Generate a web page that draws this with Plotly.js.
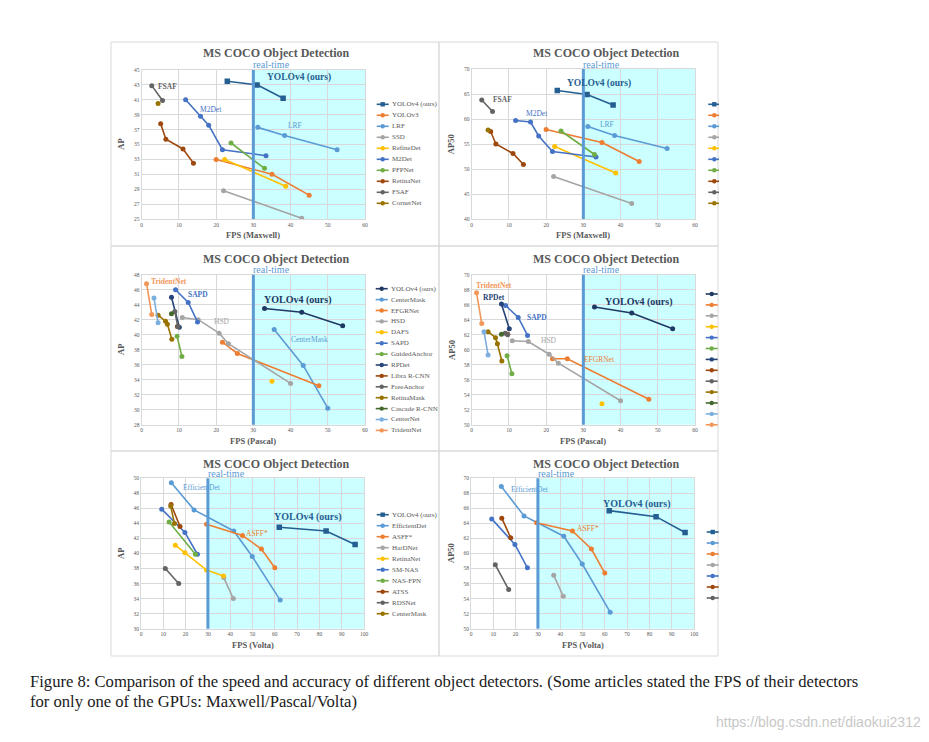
<!DOCTYPE html>
<html><head><meta charset="utf-8">
<script src="https://cdn.plot.ly/plotly-3.0.1.min.js"></script>
<style>html,body{margin:0;padding:0;background:#fff;}#chart{width:929px;height:742px;}</style>
</head><body><div id="chart"></div>
<script>
// ================= DATA =================
// Maxwell GPU
const maxwellNames  = ['YOLOv4 (ours)','YOLOv3','LRF','SSD','RefineDet','M2Det','PFPNet','RetinaNet','FSAF','CornerNet'];
const maxwellColors = ['#255E91','#ED7D31','#5B9BD5','#A5A5A5','#FFC000','#4472C4','#70AD47','#9E480E','#636363','#997300'];
const maxwellFPS = [[23,31,38],[20,35,45],[31.2,38.4,52.5],[22,43],[22.3,38.7],[11.8,15.8,18,21.7,33.4],[24,33],[5.1,6.5,11.1,13.9],[2.7,5.6],[4.4]];
const maxwellAP  = [[43.5,43.0,41.2],[33.0,31.0,28.2],[37.3,36.2,34.3],[28.8,25.1],[33.0,29.4],[41.0,38.8,37.6,34.3,33.5],[35.2,31.8],[37.8,35.7,34.4,32.5],[42.9,40.9],[40.5]];
const maxwellAP50= [[65.7,64.9,62.8],[57.9,55.3,51.5],[58.5,56.7,54.1],[48.5,43.1],[54.5,49.2],[59.7,59.4,56.6,53.5,52.4],[57.6,52.9],[57.5,55.0,53.1,50.9],[63.8,61.5],[57.8]];
const maxwellLabelsAP   = [['FSAF',6.9,42.85,'#636363',1],['M2Det',18.6,39.7,'#4472C4',0],['LRF',41.1,37.5,'#5B9BD5',0]];
const maxwellLabelsAP50 = [['FSAF',8.2,64.0,'#636363',1],['M2Det',17.5,61.2,'#4472C4',0],['LRF',36.3,58.9,'#5B9BD5',0]];

// Pascal GPU (AP)
const pascalNames  = ['YOLOv4 (ours)','CenterMask','EFGRNet','HSD','DAFS','SAPD','GuidedAnchor','RPDet','Libra R-CNN','FreeAnchor','RetinaMask','Cascade R-CNN','CenterNet','TridentNet'];
const pascalColors = ['#1F3864','#5B9BD5','#ED7D31','#A5A5A5','#FFC000','#4472C4','#70AD47','#264478','#9E480E','#636363','#997300','#43682B','#7CAFDD','#F1975A'];
const pascalFPS = [[33,43,54],[35.6,43.4,50.0],[21.7,25.7,47.6],[10.9,15.2,20.8,23.3,40.0],[35],[9.1,12.5,15.0],[9.5,10.8],[8.0,10.1],[9.6],[8.9,9.7],[4.4,6.4,6.9,8.1],[8.0],[3.3,4.4],[1.3,2.7]];
const pascalAP  = [[43.5,43.0,41.2],[40.7,35.9,30.2],[39.0,37.5,33.2],[42.3,42.0,40.2,38.8,33.5],[33.8],[46.0,44.3,41.7],[39.8,37.1],[45.0,41.0],[41.1],[43.1,41.1],[42.6,41.8,41.4,39.4],[42.8],[44.9,41.6],[46.8,42.7]];
const pascalLabelsAP = [['TridentNet',7.2,47.1,'#F1975A',1],['SAPD',15.2,45.3,'#4472C4',1],['HSD',21.5,41.7,'#A5A5A5',0],['CenterMask',45.0,39.3,'#5B9BD5',0]];

// Pascal GPU (AP50)
const pascal50Names  = ['YOLOv4 (ours)','EFGRNet','HSD','DAFS','SAPD','GuidedAnchor','RPDet','Libra R-CNN','FreeAnchor','RetinaMask','Cascade R-CNN','CenterNet','TridentNet'];
const pascal50Colors = ['#1F3864','#ED7D31','#A5A5A5','#FFC000','#4472C4','#70AD47','#264478','#9E480E','#636363','#997300','#43682B','#7CAFDD','#F1975A'];
const pascal50FPS = [[33,43,54],[21.7,25.7,47.6],[10.9,15.2,20.8,23.3,40.0],[35],[9.1,12.5,15.0],[9.5,10.8],[8.0,10.1],[9.7],[9.0,9.7],[4.4,6.4,6.9,8.1],[8.0],[3.3,4.4],[1.3,2.7]];
const pascal50AP50 = [[65.7,64.9,62.8],[58.8,58.8,53.4],[61.2,61.1,59.4,58.2,53.2],[52.8],[65.9,64.3,61.9],[59.2,56.8],[66.1,62.8],[62.05],[62.2,62.0],[62.4,61.6,60.8,58.5],[62.05],[62.4,59.3],[67.6,63.5]];
const pascalLabelsAP50 = [['TridentNet',5.9,68.5,'#F1975A',1],['RPDet',6.0,67.0,'#264478',1],['SAPD',17.6,64.3,'#4472C4',1],['HSD',20.9,61.2,'#A5A5A5',0],['EFGRNet',34.3,58.7,'#ED7D31',0]];

// Volta GPU (AP)
const voltaNames  = ['YOLOv4 (ours)','EfficientDet','ASFF*','HarDNet','RetinaNet','SM-NAS','NAS-FPN','ATSS','RDSNet','CenterMask'];
const voltaColors = ['#255E91','#5B9BD5','#ED7D31','#A5A5A5','#FFC000','#4472C4','#70AD47','#9E480E','#636363','#997300'];
const voltaFPS = [[62,83,96],[13.6,23.8,41.6,49.9,62.4],[29.4,45.5,54.0,60.0],[37.1,41.4],[15.4,19.7,29.4,37.0],[9.3,19.7,25.3],[12.6,24.4],[13.5,17.5],[10.9,16.9],[13.3,15.0]];
const voltaAP  = [[43.5,43.0,41.2],[49.4,45.8,43.0,39.6,33.8],[43.9,42.4,40.6,38.1],[36.8,34.0],[41.1,40.1,37.8,37.0],[45.9,42.8,39.9],[44.2,39.9],[46.5,43.6],[38.0,36.0],[46.3,44.0]];
const voltaLabelsAP = [['EfficientDet',27.4,48.8,'#5B9BD5',0],['ASFF*',52.2,42.7,'#ED7D31',0]];

// Volta GPU (AP50)
const volta50Names  = ['YOLOv4 (ours)','EfficientDet','ASFF*','HarDNet','SM-NAS','ATSS','RDSNet'];
const volta50Colors = ['#255E91','#5B9BD5','#ED7D31','#A5A5A5','#4472C4','#9E480E','#636363'];
const volta50FPS = [[62,83,96],[13.6,23.8,41.6,49.9,62.4],[29.4,45.5,54.0,60.0],[37.1,41.4],[9.3,19.7,25.3],[13.8,17.8],[10.9,16.9]];
const volta50AP50 = [[65.7,64.9,62.8],[68.9,65.0,62.3,58.6,52.2],[64.1,63.0,60.6,57.4],[57.1,54.3],[64.6,61.2,58.1],[64.7,62.1],[58.5,55.2]];
const voltaLabelsAP50 = [['EfficientDet',26.5,68.5,'#5B9BD5',0],['ASFF*',52.5,63.3,'#ED7D31',0]];

const chartTitle = 'MS COCO Object Detection';
const realTimeFPS = 30;
const oursLabel = 'YOLOv4 (ours)';
const captionLines = ['Figure 8: Comparison of the speed and accuracy of different object detectors. (Some articles stated the FPS of their detectors',
                      'for only one of the GPUs: Maxwell/Pascal/Volta)'];
const watermark = 'https://blog.csdn.net/diaokui2312';

// ================= LAYOUT =================
const W = 929, H = 742;
const SERIF = 'Liberation Serif, Times New Roman, serif';
const X = px => px / W;
const Y = py => 1 - py / H;

const panels = [
  {names:maxwellNames, colors:maxwellColors, xs:maxwellFPS, ys:maxwellAP, labels:maxwellLabelsAP, oursPos:[42.2,43.97], oursColor:'#255E91', oursSize:9.5,
   xr:[0,60], xd:10, yr:[25,45], yd:2, dom:[141.7,365,70,219], ytitle:'AP', xtitle:'FPS (Maxwell)', square:true,
   leg:{x:376.7, y0:104.3, step:11, text:true}, titleXY:[276.7,53.3]},
  {names:maxwellNames, colors:maxwellColors, xs:maxwellFPS, ys:maxwellAP50, labels:maxwellLabelsAP50, oursPos:[34.2,67.1], oursColor:'#255E91', oursSize:9.5,
   xr:[0,60], xd:10, yr:[40,70], yd:5, dom:[471.7,695,69,219], ytitle:'AP50', xtitle:'FPS (Maxwell)', square:true,
   leg:{x:708.3, y0:104.3, step:11, text:false}, titleXY:[606.7,53.3]},
  {names:pascalNames, colors:pascalColors, xs:pascalFPS, ys:pascalAP, labels:pascalLabelsAP, oursPos:[42.0,44.6], oursColor:'#1F3864', oursSize:10,
   xr:[0,60], xd:10, yr:[28,48], yd:2, dom:[141.7,365,274.7,424.7], ytitle:'AP', xtitle:'FPS (Pascal)', square:false,
   leg:{x:375.7, y0:288.7, step:10.9, text:true}, titleXY:[276.7,258.7]},
  {names:pascal50Names, colors:pascal50Colors, xs:pascal50FPS, ys:pascal50AP50, labels:pascalLabelsAP50, oursPos:[45.0,66.3], oursColor:'#1F3864', oursSize:10,
   xr:[0,60], xd:10, yr:[50,70], yd:2, dom:[471.7,695,274.7,424.7], ytitle:'AP50', xtitle:'FPS (Pascal)', square:false,
   leg:{x:705.7, y0:294, step:10.9, text:false}, titleXY:[606.7,258.7]},
  {names:voltaNames, colors:voltaColors, xs:voltaFPS, ys:voltaAP, labels:voltaLabelsAP, oursPos:[74.9,44.8], oursColor:'#255E91', oursSize:10,
   xr:[0,100], xd:10, yr:[30,50], yd:2, dom:[141,364,478.3,628.7], ytitle:'AP', xtitle:'FPS (Volta)', square:true,
   leg:{x:376.7, y0:514.7, step:11, text:true}, titleXY:[276.7,464.3]},
  {names:volta50Names, colors:volta50Colors, xs:volta50FPS, ys:volta50AP50, labels:voltaLabelsAP50, oursPos:[74.6,66.6], oursColor:'#255E91', oursSize:10,
   xr:[0,100], xd:10, yr:[50,70], yd:2, dom:[471,694,478.3,628.7], ytitle:'AP50', xtitle:'FPS (Volta)', square:true,
   leg:{x:706.7, y0:532, step:11, text:false}, titleXY:[606.7,464.3]}
];

const panelFrames = [[111,439,42,246],[439,718,42,246],[111,439,246,451],[439,718,246,451],[111,439,451,656],[439,718,451,656]];

const traces = [];
const shapes = [];
const annotations = [];
const layout = {
  width: W, height: H, margin:{l:0,r:0,t:0,b:0},
  paper_bgcolor:'#ffffff', plot_bgcolor:'#ffffff', showlegend:false,
  font:{family:SERIF, color:'#595959'}
};

panelFrames.forEach(f => {
  shapes.push({type:'rect', xref:'paper', yref:'paper', x0:X(f[0]), x1:X(f[1]), y0:Y(f[3]), y1:Y(f[2]),
               line:{color:'#D9D9D9', width:1}, fillcolor:'rgba(0,0,0,0)', layer:'below'});
});

panels.forEach((p, k) => {
  const i = k + 1;
  const xa = i === 1 ? 'xaxis' : 'xaxis' + i;
  const ya = i === 1 ? 'yaxis' : 'yaxis' + i;
  const xr = i === 1 ? 'x' : 'x' + i;
  const yr = i === 1 ? 'y' : 'y' + i;
  const axCommon = {showgrid:true, gridcolor:'#D9D9D9', gridwidth:1, zeroline:false, showline:true, linecolor:'#D9D9D9',
                    linewidth:1, mirror:true, ticks:'', tickfont:{family:SERIF, size:5.5, color:'#595959'}, fixedrange:true};
  layout[xa] = Object.assign({}, axCommon, {domain:[X(p.dom[0]), X(p.dom[1])], range:p.xr, dtick:p.xd, tick0:0, anchor:yr});
  layout[ya] = Object.assign({}, axCommon, {domain:[Y(p.dom[3]), Y(p.dom[2])], range:p.yr, dtick:p.yd, tick0:p.yr[0], anchor:xr});

  // real-time zone
  shapes.push({type:'rect', xref:xr, yref:yr + ' domain', x0:realTimeFPS, x1:p.xr[1], y0:0, y1:1,
               fillcolor:'#CCFFFF', line:{width:0}, layer:'below'});
  shapes.push({type:'line', xref:xr, yref:yr + ' domain', x0:realTimeFPS, x1:realTimeFPS, y0:0, y1:1,
               line:{color:'#5B9BD5', width:3}, layer:'above'});

  // series
  p.names.forEach((name, s) => {
    const sym = (s === 0 && p.square) ? 'square' : 'circle';
    traces.push({type:'scatter', mode:'lines+markers', name:name, x:p.xs[s], y:p.ys[s], xaxis:xr, yaxis:yr,
                 line:{color:p.colors[s], width:1.6}, marker:{color:p.colors[s], size: sym === 'square' ? 5.5 : 5, symbol:sym},
                 showlegend:false, hoverinfo:'x+y+name'});
    // custom compact legend
    const cy = p.leg.y0 + s * p.leg.step;
    const lx0 = p.leg.x, lx1 = Math.min(p.leg.x + 12, 719);
    shapes.push({type:'line', xref:'paper', yref:'paper', x0:X(lx0), x1:X(lx1), y0:Y(cy), y1:Y(cy),
                 line:{color:p.colors[s], width:1.6}});
    shapes.push({type: sym === 'square' ? 'rect' : 'circle', xref:'paper', yref:'paper', xsizemode:'pixel', ysizemode:'pixel',
                 xanchor:X(p.leg.x + 6), yanchor:Y(cy), x0:-2.2, x1:2.2, y0:-2.2, y1:2.2,
                 fillcolor:p.colors[s], line:{width:0}});
    if (p.leg.text) {
      annotations.push({xref:'paper', yref:'paper', x:X(p.leg.x + 14.5), y:Y(cy), xanchor:'left', yanchor:'middle',
                        text:name, showarrow:false, borderpad:0, font:{family:SERIF, size:7, color:'#595959'}});
    }
  });

  // series labels
  p.labels.forEach(l => {
    annotations.push({xref:xr, yref:yr, x:l[1], y:l[2], text: l[4] ? '<b>' + l[0] + '</b>' : l[0], showarrow:false,
                      borderpad:0, font:{family:SERIF, size:7.5, color:l[3]}});
  });
  annotations.push({xref:xr, yref:yr, x:p.oursPos[0], y:p.oursPos[1], text:'<b>' + oursLabel + '</b>', showarrow:false,
                    borderpad:0, font:{family:SERIF, size:p.oursSize, color:p.oursColor}});
  // real-time label
  annotations.push({xref:xr, yref:yr + ' domain', x:realTimeFPS, y:1, xanchor:'left', yanchor:'bottom', yshift:-1.5, xshift:-1,
                    borderpad:0, text:'real-time', showarrow:false, font:{family:SERIF, size:10, color:'#5B9BD5'}});
  // chart title
  annotations.push({xref:'paper', yref:'paper', x:X(p.titleXY[0]), y:Y(p.titleXY[1]), xanchor:'center', yanchor:'middle',
                    borderpad:0, text:'<b>' + chartTitle + '</b>', showarrow:false, font:{family:SERIF, size:12, color:'#595959'}});
  // axis titles
  annotations.push({xref:'paper', yref:'paper', x:X(p.dom[0] - 20.5), y:Y((p.dom[2] + p.dom[3]) / 2), textangle:-90,
                    xanchor:'center', yanchor:'middle', text:'<b>' + p.ytitle + '</b>', showarrow:false,
                    font:{family:SERIF, size:8.5, color:'#595959'}});
  annotations.push({xref:'paper', yref:'paper', x:X((p.dom[0] + p.dom[1]) / 2), y:Y(p.dom[3] + 16), xanchor:'center', yanchor:'middle',
                    text:'<b>' + p.xtitle + '</b>', showarrow:false, font:{family:SERIF, size:8.5, color:'#595959'}});
});

// caption and watermark
captionLines.forEach((t, j) => {
  annotations.push({xref:'paper', yref:'paper', x:X(28), y:Y(681 + j * 20.5), xanchor:'left', yanchor:'middle',
                    text:t, showarrow:false, font:{family:SERIF, size:16.6, color:'#1a1a1a'}});
});
annotations.push({xref:'paper', yref:'paper', x:X(923), y:Y(722), xanchor:'right', yanchor:'middle',
                  text:watermark, showarrow:false, font:{family:'Liberation Sans, Arial, sans-serif', size:14, color:'#C8C8C8'}});

layout.shapes = shapes;
layout.annotations = annotations;
Plotly.newPlot('chart', traces, layout, {staticPlot:true, displayModeBar:false});
</script></body></html>
